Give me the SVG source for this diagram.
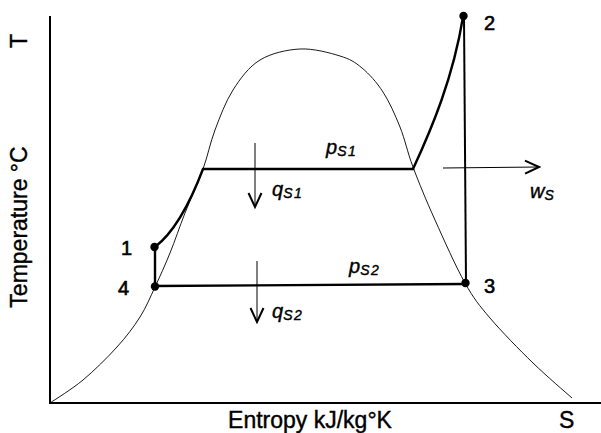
<svg xmlns="http://www.w3.org/2000/svg" width="601" height="433" viewBox="0 0 601 433">
<style>
.ax{stroke:#000;stroke-width:2;fill:none}
.dome{stroke:#000;stroke-width:0.9;fill:none}
.proc{stroke:#000;stroke-width:2.4;fill:none;stroke-linecap:round}
.arr{stroke:#000;stroke-width:1;fill:none}
.lbl{font-family:"Liberation Sans",Arial,sans-serif;font-size:23px;fill:#000;stroke:#000;stroke-width:0.4}
.num{font-family:"Liberation Sans",Arial,sans-serif;font-size:20px;fill:#000;stroke:#000;stroke-width:0.6}
.it{font-family:"Liberation Sans",Arial,sans-serif;font-style:italic;font-size:20px;fill:#000;stroke:#000;stroke-width:0.4}
.sub{font-size:14px;letter-spacing:1.5px}
.pt{fill:#000}
</style>
<defs>
<marker id="chev" viewBox="-16 -8 18 16" markerWidth="18" markerHeight="16" refX="0" refY="0" orient="auto" markerUnits="userSpaceOnUse">
<path d="M-14,-6.5 L0,0 L-14,6.5" fill="none" stroke="#000" stroke-width="2"/>
</marker>
</defs>
<rect width="601" height="433" fill="#fff"/>
<g id="axes">
<path class="ax" d="M50,16 L50,403 L601,403"/>
</g>
<g id="dome">
<path class="dome" d="M50,403 C55.5,399.2 71.8,389.3 83,380 C94.2,370.7 107.5,357.5 117,347 C126.5,336.5 133.7,327 140,317 C146.3,307 150,297.7 155,287 C160,276.3 165,265.3 170,253 C175,240.7 179.5,227 185,213 C190.5,199 198,182.8 203,169 C208,155.2 210,143.2 215,130 C220,116.8 225.5,101.7 233,90 C240.5,78.3 248.8,66.8 260,60 C271.2,53.2 286.7,49.7 300,49 C313.3,48.3 329.7,52.8 340,56 C350.3,59.2 354.8,62 362,68 C369.2,74 376.7,82.2 383,92 C389.3,101.8 395,114.5 400,127 C405,139.5 407.2,151.5 413,167 C418.8,182.5 426.3,200.7 435,220 C443.7,239.3 455.8,266.7 465,283 C474.2,299.3 478.7,304.7 490,318 C501.3,331.3 519.3,349.7 533,363 C546.7,376.3 565.5,392.2 572,398"/>
</g>
<g id="connectors">
<path class="proc" d="M155,247 L155,286"/>
<path class="proc" d="M155,247 Q181,227 203,169"/>
<path class="proc" d="M203,169 L413,169"/>
<path class="proc" d="M413,169 C432,128 453,78 463,17"/>
<path class="ax" d="M464,17 L466,283"/>
<path class="proc" d="M155,286 L465,284"/>
<path class="arr" d="M255,143 L255,207" marker-end="url(#chev)"/>
<path class="arr" d="M257,261 L257,322" marker-end="url(#chev)"/>
<path class="arr" d="M443,168 L539,167" marker-end="url(#chev)"/>
</g>
<g id="p1"><circle class="pt" cx="154.5" cy="247" r="4.2"/><text class="num" x="121" y="255">1</text></g>
<g id="p2"><circle class="pt" cx="463.5" cy="16" r="4.2"/><text class="num" x="484" y="30">2</text></g>
<g id="p3"><circle class="pt" cx="465.5" cy="283" r="4.2"/><text class="num" x="484" y="293">3</text></g>
<g id="p4"><circle class="pt" cx="155" cy="286.5" r="4.2"/><text class="num" x="118" y="295">4</text></g>
<g id="labels">
<text class="lbl" transform="translate(27,48) rotate(-90)">T</text>
<text class="lbl" text-anchor="middle" transform="translate(27,227) rotate(-90)">Temperature °C</text>
<text class="lbl" x="310" y="428" text-anchor="middle">Entropy kJ/kg°K</text>
<text class="lbl" x="559" y="428">S</text>
<text class="it" x="326" y="154">p<tspan class="sub" dy="2">S1</tspan></text>
<text class="it" x="349" y="273">p<tspan class="sub" dy="2">S2</tspan></text>
<text class="it" x="272" y="196">q<tspan class="sub" dy="2">S1</tspan></text>
<text class="it" x="272" y="318">q<tspan class="sub" dy="2">S2</tspan></text>
<text class="it" x="530" y="198">w<tspan class="sub" dy="2">S</tspan></text>
</g>
</svg>
